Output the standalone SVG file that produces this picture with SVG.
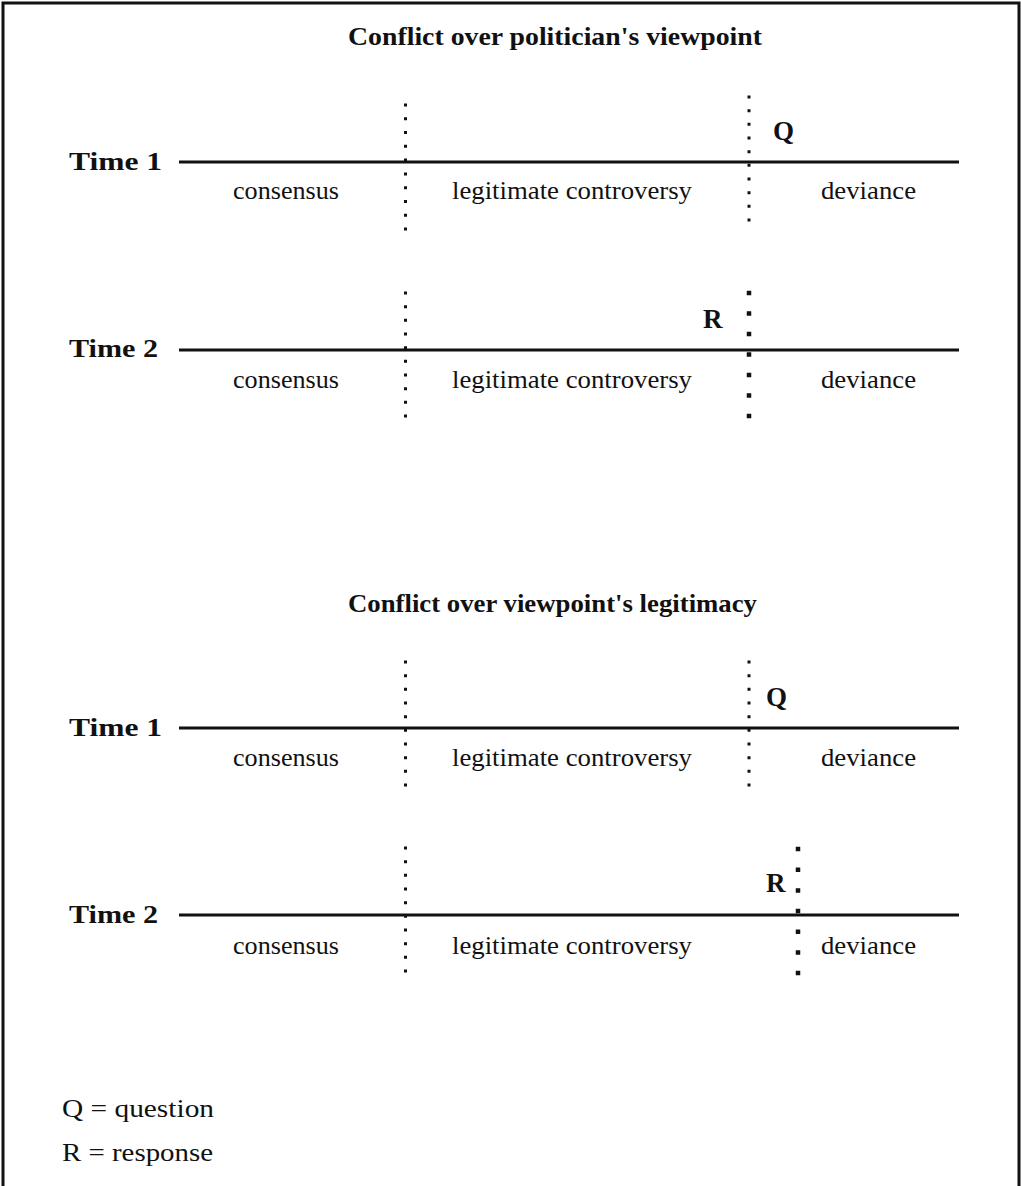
<svg xmlns="http://www.w3.org/2000/svg" width="1022" height="1186" viewBox="0 0 1022 1186">
<style>
text{font-family:"Liberation Serif","DejaVu Serif",serif;fill:#111}
.title{font-size:25px;font-weight:bold}
.time{font-size:26px;font-weight:bold}
.lab{font-size:26px}
.qr{font-size:27px;font-weight:bold}
.leg{font-size:26px}
.axis{stroke:#111;stroke-width:3;fill:none}
.dot{stroke:#111;stroke-width:3;fill:none}
.bdot{stroke:#111;stroke-width:4.5;fill:none}
.frame{stroke:#111;stroke-width:3;fill:none}
</style>
<rect width="1022" height="1186" fill="#fff"/>
<path class="frame" d="M3,1186 V3 H1019 V1186"/>

<g id="title1"><text class="title" x="348" y="45" textLength="414" lengthAdjust="spacingAndGlyphs">Conflict over politician's viewpoint</text></g>

<g id="s1t1">
<text class="time" x="69" y="170" textLength="93" lengthAdjust="spacingAndGlyphs">Time  1</text>
<text class="lab" x="233" y="199" textLength="106" lengthAdjust="spacingAndGlyphs">consensus</text>
<text class="lab" x="452" y="199" textLength="240" lengthAdjust="spacingAndGlyphs">legitimate controversy</text>
<text class="lab" x="821" y="199" textLength="95" lengthAdjust="spacingAndGlyphs">deviance</text>
<text class="qr" x="773" y="140">Q</text>
</g>
<g id="s1t2">
<text class="time" x="69" y="357" textLength="89" lengthAdjust="spacingAndGlyphs">Time 2</text>
<text class="lab" x="233" y="388" textLength="106" lengthAdjust="spacingAndGlyphs">consensus</text>
<text class="lab" x="452" y="388" textLength="240" lengthAdjust="spacingAndGlyphs">legitimate controversy</text>
<text class="lab" x="821" y="388" textLength="95" lengthAdjust="spacingAndGlyphs">deviance</text>
<text class="qr" x="703" y="328">R</text>
</g>

<g id="title2"><text class="title" x="348" y="612" textLength="409" lengthAdjust="spacingAndGlyphs">Conflict over viewpoint's legitimacy</text></g>

<g id="s2t1">
<text class="time" x="69" y="736" textLength="93" lengthAdjust="spacingAndGlyphs">Time  1</text>
<text class="lab" x="233" y="766" textLength="106" lengthAdjust="spacingAndGlyphs">consensus</text>
<text class="lab" x="452" y="766" textLength="240" lengthAdjust="spacingAndGlyphs">legitimate controversy</text>
<text class="lab" x="821" y="766" textLength="95" lengthAdjust="spacingAndGlyphs">deviance</text>
<text class="qr" x="766" y="706">Q</text>
</g>
<g id="s2t2">
<text class="time" x="69" y="923" textLength="89" lengthAdjust="spacingAndGlyphs">Time 2</text>
<text class="lab" x="233" y="954" textLength="106" lengthAdjust="spacingAndGlyphs">consensus</text>
<text class="lab" x="452" y="954" textLength="240" lengthAdjust="spacingAndGlyphs">legitimate controversy</text>
<text class="lab" x="821" y="954" textLength="95" lengthAdjust="spacingAndGlyphs">deviance</text>
<text class="qr" x="766" y="892">R</text>
</g>

<g id="legend">
<text class="leg" x="62" y="1117" textLength="152" lengthAdjust="spacingAndGlyphs">Q = question</text>
<text class="leg" x="62" y="1161" textLength="151" lengthAdjust="spacingAndGlyphs">R = response</text>
</g>

<g id="connectors">
<line class="axis" x1="179" y1="162" x2="959" y2="162"/>
<line class="axis" x1="179" y1="350" x2="959" y2="350"/>
<line class="axis" x1="179" y1="728" x2="959" y2="728"/>
<line class="axis" x1="179" y1="915" x2="959" y2="915"/>
<line class="dot" x1="405.5" y1="103.5" x2="405.5" y2="231" stroke-dasharray="3 10.78"/>
<line class="dot" x1="749" y1="95.5" x2="749" y2="222" stroke-dasharray="3 10.67"/>
<line class="dot" x1="405.5" y1="291.5" x2="405.5" y2="418" stroke-dasharray="3 10.67"/>
<line class="bdot" x1="749" y1="290.8" x2="749" y2="419" stroke-dasharray="4.5 16"/>
<line class="dot" x1="405.5" y1="660.5" x2="405.5" y2="787" stroke-dasharray="3 10.67"/>
<line class="dot" x1="749" y1="660.5" x2="749" y2="787" stroke-dasharray="3 10.67"/>
<line class="dot" x1="405.5" y1="846.5" x2="405.5" y2="973" stroke-dasharray="3 10.67"/>
<line class="bdot" x1="798" y1="846.8" x2="798" y2="976" stroke-dasharray="4.5 16.17"/>
</g>
</svg>
